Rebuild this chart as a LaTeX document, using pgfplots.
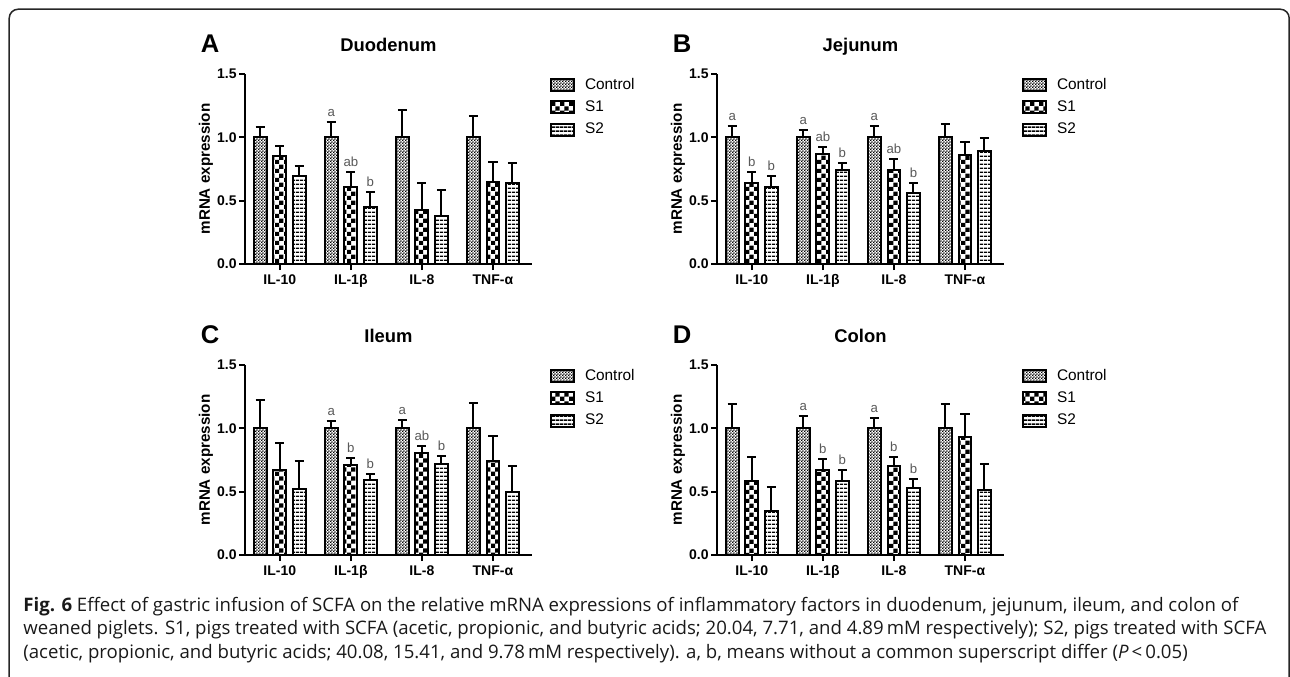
\documentclass[border=0pt]{standalone}
\usepackage{fontspec}
\setmainfont{Liberation Sans}
\newfontfamily\capfont{Open Sans}
\usepackage{pgfplots}
\pgfplotsset{compat=1.18}
\usetikzlibrary{patterns}

% fill patterns of the three groups
\pgfdeclarepatternformonly{ctrl}{\pgfpointorigin}{\pgfqpoint{1.6pt}{1.6pt}}{\pgfqpoint{1.6pt}{1.6pt}}{%
  \pgfpathrectangle{\pgfpointorigin}{\pgfqpoint{0.8pt}{0.8pt}}%
  \pgfpathrectangle{\pgfqpoint{0.8pt}{0.8pt}}{\pgfqpoint{0.8pt}{0.8pt}}%
  \pgfusepath{fill}}
\pgfdeclarepatternformonly{chk}{\pgfpointorigin}{\pgfqpoint{4.6pt}{4.6pt}}{\pgfqpoint{4.6pt}{4.6pt}}{%
  \pgfpathrectangle{\pgfpointorigin}{\pgfqpoint{2.3pt}{2.3pt}}%
  \pgfpathrectangle{\pgfqpoint{2.3pt}{2.3pt}}{\pgfqpoint{2.3pt}{2.3pt}}%
  \pgfusepath{fill}}
\pgfdeclarepatternformonly{hln}{\pgfpointorigin}{\pgfqpoint{2pt}{2pt}}{\pgfqpoint{2pt}{2pt}}{%
  \pgfpathrectangle{\pgfpointorigin}{\pgfqpoint{2pt}{0.9pt}}%
  \pgfusepath{fill}}

\pgfplotsset{
  panel/.style={
    scale only axis, width=143.5pt, height=95pt, anchor=south west,
    xmin=-0.49, xmax=3.55, ymin=0, ymax=1.5,
    axis lines=left, axis line style={-, line width=1pt, black},
    xtick={0,1,2,3}, xticklabels={IL-10,IL-1β,IL-8,TNF-α},
    ytick={0,0.5,1,1.5}, yticklabels={0.0,0.5,1.0,1.5},
    tick align=outside, major tick length=3pt,
    tick style={line width=1pt, black},
    ticklabel style={font=\bfseries\fontsize{7}{8}\selectfont},
    xticklabel style={inner sep=2pt},
    yticklabel style={inner sep=1pt},
    ylabel={mRNA expression},
    every axis y label/.style={at={(rel axis cs:0,0.5)}, xshift=-19.5pt, rotate=90,
      anchor=center, font=\bfseries\fontsize{7.6}{8}\selectfont},
    every axis title/.style={at={(rel axis cs:0.5,1)}, anchor=base, yshift=11.25pt,
      font=\bfseries\fontsize{9.2}{10}\selectfont},
    every axis legend/.style={at={(1,1)}, anchor=north west, xshift=9pt, yshift=-1pt,
      draw=none, fill=none, inner sep=0pt, outer sep=0pt, shape=rectangle,
      cells={anchor=west}, row sep=2.2pt,
      nodes={inner sep=1pt, text depth=0.15em, font=\fontsize{7.7}{9}\selectfont},
      /tikz/every odd column/.style={column sep=4pt}},
    clip=false,
  },
  bars/.style={ybar, bar width=0.18, draw=black, line width=1pt, pattern color=black,
    legend image code/.code={\draw[##1] (0pt,-3pt) rectangle (11.5pt,3pt);},
    /pgfplots/error bars/y dir=plus, /pgfplots/error bars/y explicit,
    /pgfplots/error bars/error bar style={line width=1pt, black},
    /pgfplots/error bars/error mark options={rotate=90, line width=1pt, mark size=2.3pt, black}},
}
\tikzset{
  lab/.style={font=\fontsize{6.6}{7}\selectfont, text=black!65, anchor=south, inner sep=0pt, yshift=2.5pt},
  letter/.style={font=\bfseries\fontsize{12.8}{13}\selectfont, anchor=base, xshift=-17.5pt, yshift=11pt},
}

\begin{document}
\begin{tikzpicture}
\useasboundingbox (0pt,0pt) rectangle (645pt,-338pt);
\draw[line width=0.75pt, black!85, rounded corners=4.5pt]
  (4.6pt,-350pt) -- (4.6pt,-4.6pt) -- (644.6pt,-4.6pt) -- (644.6pt,-350pt);

% A: duodenum
\begin{axis}[panel, at={(122.5pt,-132pt)}, title={Duodenum}]
\addplot[bars, pattern=ctrl] coordinates {(-0.275,1.0) +- (0,0.084) (0.725,1.0) +- (0,0.124) (1.725,1.0) +- (0,0.216) (2.725,1.0) +- (0,0.168)};
\addplot[bars, pattern=chk] coordinates {(0,0.853) +- (0,0.081) (1,0.611) +- (0,0.115) (2,0.426) +- (0,0.211) (3,0.650) +- (0,0.158)};
\addplot[bars, pattern=hln] coordinates {(0.275,0.697) +- (0,0.077) (1.275,0.453) +- (0,0.118) (2.275,0.379) +- (0,0.205) (3.275,0.637) +- (0,0.158)};
\legend{Control,S1,S2}
\node[lab] at (axis cs:0.725,1.124) {a};
\node[lab] at (axis cs:1,0.726) {ab};
\node[lab] at (axis cs:1.275,0.571) {b};
\node[letter] at (rel axis cs:0,1) {A};
\end{axis}

% B: jejunum
\begin{axis}[panel, at={(358.5pt,-132pt)}, title={Jejunum}]
\addplot[bars, pattern=ctrl] coordinates {(-0.275,1.0) +- (0,0.092) (0.725,1.0) +- (0,0.058) (1.725,1.0) +- (0,0.087) (2.725,1.0) +- (0,0.105)};
\addplot[bars, pattern=chk] coordinates {(0,0.637) +- (0,0.089) (1,0.866) +- (0,0.055) (2,0.742) +- (0,0.084) (3,0.861) +- (0,0.100)};
\addplot[bars, pattern=hln] coordinates {(0.275,0.605) +- (0,0.092) (1.275,0.742) +- (0,0.053) (2.275,0.563) +- (0,0.076) (3.275,0.892) +- (0,0.105)};
\legend{Control,S1,S2}
\node[lab] at (axis cs:-0.275,1.092) {a};
\node[lab] at (axis cs:0,0.726) {b};
\node[lab] at (axis cs:0.275,0.697) {b};
\node[lab] at (axis cs:0.725,1.058) {a};
\node[lab] at (axis cs:1,0.921) {ab};
\node[lab] at (axis cs:1.275,0.795) {b};
\node[lab] at (axis cs:1.725,1.087) {a};
\node[lab] at (axis cs:2,0.826) {ab};
\node[lab] at (axis cs:2.275,0.639) {b};
\node[letter] at (rel axis cs:0,1) {B};
\end{axis}

% C: ileum
\begin{axis}[panel, at={(122.5pt,-277.5pt)}, title={Ileum}]
\addplot[bars, pattern=ctrl] coordinates {(-0.275,1.0) +- (0,0.225) (0.725,1.0) +- (0,0.060) (1.725,1.0) +- (0,0.065) (2.725,1.0) +- (0,0.204)};
\addplot[bars, pattern=chk] coordinates {(0,0.669) +- (0,0.215) (1,0.713) +- (0,0.050) (2,0.803) +- (0,0.057) (3,0.745) +- (0,0.196)};
\addplot[bars, pattern=hln] coordinates {(0.275,0.522) +- (0,0.223) (1.275,0.590) +- (0,0.047) (2.275,0.721) +- (0,0.058) (3.275,0.498) +- (0,0.202)};
\legend{Control,S1,S2}
\node[lab] at (axis cs:0.725,1.060) {a};
\node[lab] at (axis cs:1,0.763) {b};
\node[lab] at (axis cs:1.275,0.637) {b};
\node[lab] at (axis cs:1.725,1.065) {a};
\node[lab] at (axis cs:2,0.860) {ab};
\node[lab] at (axis cs:2.275,0.779) {b};
\node[letter] at (rel axis cs:0,1) {C};
\end{axis}

% D: colon
\begin{axis}[panel, at={(358.5pt,-277.5pt)}, title={Colon}]
\addplot[bars, pattern=ctrl] coordinates {(-0.275,1.0) +- (0,0.196) (0.725,1.0) +- (0,0.094) (1.725,1.0) +- (0,0.078) (2.725,1.0) +- (0,0.196)};
\addplot[bars, pattern=chk] coordinates {(0,0.582) +- (0,0.192) (1,0.674) +- (0,0.084) (2,0.700) +- (0,0.071) (3,0.928) +- (0,0.189)};
\addplot[bars, pattern=hln] coordinates {(0.275,0.346) +- (0,0.192) (1.275,0.587) +- (0,0.087) (2.275,0.530) +- (0,0.071) (3.275,0.517) +- (0,0.199)};
\legend{Control,S1,S2}
\node[lab] at (axis cs:0.725,1.094) {a};
\node[lab] at (axis cs:1,0.758) {b};
\node[lab] at (axis cs:1.275,0.674) {b};
\node[lab] at (axis cs:1.725,1.078) {a};
\node[lab] at (axis cs:2,0.771) {b};
\node[lab] at (axis cs:2.275,0.601) {b};
\node[letter] at (rel axis cs:0,1) {D};
\end{axis}

% caption
\begin{scope}[every node/.style={anchor=base west, inner sep=0pt, text=black!90,
    font=\capfont\fontsize{9.3}{11.5}\selectfont}]
\node at (11.5pt,-305.5pt) {\textbf{Fig. 6} Effect of gastric infusion of SCFA on the relative mRNA expressions of inflammatory factors in duodenum, jejunum, ileum, and colon of};
\node at (11.5pt,-317.3pt) {weaned piglets. S1, pigs treated with SCFA (acetic, propionic, and butyric acids; 20.04, 7.71, and 4.89\,mM respectively); S2, pigs treated with SCFA};
\node at (11.5pt,-329pt) {(acetic, propionic, and butyric acids; 40.08, 15.41, and 9.78\,mM respectively). a, b, means without a common superscript differ (\textit{P}\,<\,0.05)};
\end{scope}
\end{tikzpicture}
\end{document}
